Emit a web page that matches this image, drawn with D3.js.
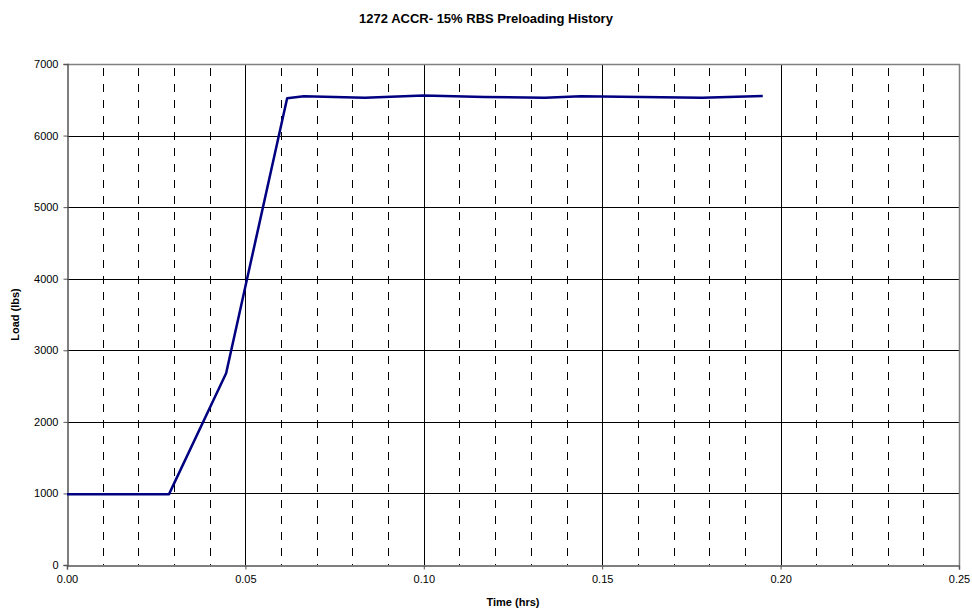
<!DOCTYPE html>
<html>
<head>
<meta charset="utf-8">
<script src="https://cdn.jsdelivr.net/npm/d3@7"></script>
<style>
  body { margin: 0; background: #fff; }
  text { font-family: "Liberation Sans", Arial, sans-serif; }
</style>
</head>
<body>
<div id="chart"></div>
<script>
// readings from the picture
var timeHrs = [0, 0.0286, 0.0446, 0.0617, 0.0664, 0.0835, 0.0999, 0.117, 0.134, 0.144, 0.161, 0.178, 0.195];
var loadLbs = [990, 990, 2680, 6521, 6549, 6530, 6560, 6540, 6530, 6550, 6540, 6528, 6553];
var xTicks = [0, 0.05, 0.10, 0.15, 0.20, 0.25];
var xMinor = [0.01, 0.02, 0.03, 0.04, 0.06, 0.07, 0.08, 0.09, 0.11, 0.12, 0.13, 0.14, 0.16, 0.17, 0.18, 0.19, 0.21, 0.22, 0.23, 0.24];
var yTicks = [0, 1000, 2000, 3000, 4000, 5000, 6000, 7000];

var width = 972, height = 614;
var margin = { top: 64, right: 13, bottom: 49, left: 67 };

var svg = d3.select("#chart").append("svg")
    .attr("width", width)
    .attr("height", height);

var x = d3.scaleLinear().domain([0, 0.25]).range([margin.left, width - margin.right]);
var y = d3.scaleLinear().domain([0, 7000]).range([height - margin.bottom, margin.top]);

// dashed minor verticals
svg.append("g").selectAll("line")
    .data(xMinor)
  .enter().append("line")
    .attr("x1", function(d) { return Math.round(x(d)) + 0.5; })
    .attr("x2", function(d) { return Math.round(x(d)) + 0.5; })
    .attr("y1", y(7000))
    .attr("y2", y(0))
    .attr("stroke", "#000")
    .attr("stroke-dasharray", "8,8")
    .attr("stroke-dashoffset", -4);

// solid major verticals
svg.append("g").selectAll("line")
    .data(xTicks.slice(1, -1))
  .enter().append("line")
    .attr("x1", function(d) { return Math.round(x(d)) + 0.5; })
    .attr("x2", function(d) { return Math.round(x(d)) + 0.5; })
    .attr("y1", y(7000))
    .attr("y2", y(0))
    .attr("stroke", "#000");

// horizontal grid
svg.append("g").selectAll("line")
    .data(yTicks.slice(1, -1))
  .enter().append("line")
    .attr("x1", x(0))
    .attr("x2", x(0.25))
    .attr("y1", function(d) { return Math.round(y(d)) + 0.5; })
    .attr("y2", function(d) { return Math.round(y(d)) + 0.5; })
    .attr("stroke", "#000");

// plot frame (top / right)
svg.append("path")
    .attr("d", "M" + x(0) + "," + (Math.round(y(7000)) + 0.5) + "H" + (Math.round(x(0.25)) + 0.5) + "V" + y(0))
    .attr("fill", "none")
    .attr("stroke", "#808080")
    .attr("stroke-width", 1.5);

// axes
var xAxis = svg.append("g")
    .attr("transform", "translate(0," + (Math.round(y(0)) + 0.5) + ")")
    .call(d3.axisBottom(x).tickValues(xTicks).tickFormat(d3.format(".2f")).tickSize(4).tickPadding(6));
var yAxis = svg.append("g")
    .attr("transform", "translate(" + (Math.round(x(0)) + 0.5) + ",0)")
    .call(d3.axisLeft(y).tickValues(yTicks).tickFormat(d3.format("d")).tickSize(4).tickPadding(5));

[xAxis, yAxis].forEach(function(a) {
  a.select(".domain").attr("stroke", "#555").attr("stroke-width", 1.5);
  a.selectAll(".tick line").attr("stroke", "#555");
  a.selectAll("text").attr("font-size", 11).attr("fill", "#000")
      .style("font-family", "'Liberation Sans', Arial, sans-serif");
});

// the load line
var line = d3.line()
    .x(function(d) { return x(d[0]); })
    .y(function(d) { return y(d[1]); });

svg.append("path")
    .datum(d3.zip(timeHrs, loadLbs))
    .attr("d", line)
    .attr("fill", "none")
    .attr("stroke", "#000080")
    .attr("stroke-width", 2.5)
    .attr("stroke-linejoin", "round");

// titles
svg.append("text")
    .attr("x", 486)
    .attr("y", 23)
    .attr("text-anchor", "middle")
    .attr("font-size", 13)
    .attr("font-weight", "bold")
    .text("1272 ACCR- 15% RBS Preloading History");

svg.append("text")
    .attr("x", (x(0) + x(0.25)) / 2)
    .attr("y", 606)
    .attr("text-anchor", "middle")
    .attr("font-size", 11)
    .attr("font-weight", "bold")
    .text("Time (hrs)");

svg.append("text")
    .attr("transform", "translate(19," + (y(3500)) + ") rotate(-90)")
    .attr("text-anchor", "middle")
    .attr("font-size", 11)
    .attr("font-weight", "bold")
    .text("Load (lbs)");
</script>
</body>
</html>
